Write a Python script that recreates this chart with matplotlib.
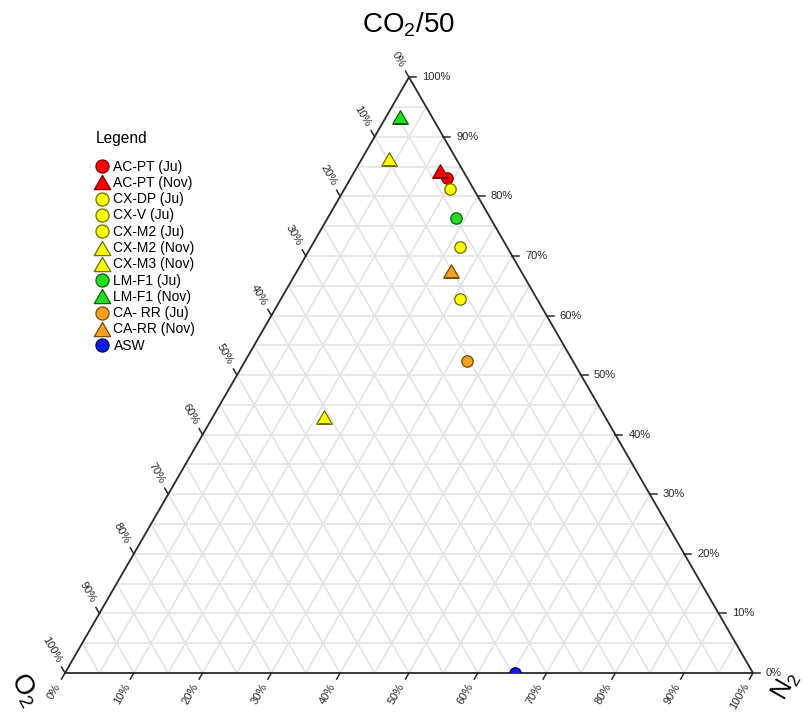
import numpy as np
import matplotlib
matplotlib.use("Agg")
import matplotlib.pyplot as plt
from matplotlib.patches import Polygon
from matplotlib.path import Path

plt.rcParams['font.family'] = ['Liberation Sans', 'DejaVu Sans']
plt.rcParams['mathtext.fontset'] = 'custom'
plt.rcParams['mathtext.rm'] = 'Liberation Sans'

# ---- data (percent) ----
labels = ["AC-PT (Ju)", "AC-PT (Nov)", "CX-DP (Ju)", "CX-V (Ju)", "CX-M2 (Ju)",
          "CX-M2 (Nov)", "CX-M3 (Nov)", "LM-F1 (Ju)", "LM-F1 (Nov)",
          "CA- RR (Ju)", "CA-RR (Nov)", "ASW"]
co2 = [83.1, 84.3, 81.2, 71.5, 62.8, 86.2, 43.0, 76.4, 93.3, 52.3, 67.4, 0.0]
n2 = [14.0, 12.3, 15.4, 21.7, 26.0, 4.0, 16.2, 18.7, 2.0, 32.3, 22.4, 65.4]
o2 = [2.9, 3.4, 3.4, 6.8, 11.2, 9.8, 40.8, 4.9, 4.7, 15.4, 10.2, 34.6]
shapes = ["o", "tri", "o", "o", "o", "tri", "tri", "o", "tri", "o", "tri", "o"]
fills = ["#ff0000", "#ff0000", "#ffff00", "#ffff00", "#ffff00", "#ffff00", "#ffff00",
         "#22dd22", "#22dd22", "#f5a020", "#f5a020", "#0a1ee6"]
edges = ["#7a0000", "#7a0000", "#6e6e00", "#6e6e00", "#6e6e00", "#6e6e00", "#6e6e00",
         "#0b5e0b", "#0b5e0b", "#7a4a00", "#7a4a00", "#00005e"]
tick_vals = list(range(0, 101, 10))

W, H = 807, 714
PX = 688.0  # pixels per data unit
x0, y0 = 65.0, 673.0
S3 = np.sqrt(3) / 2

fig = plt.figure(figsize=(W / 100, H / 100), dpi=100)
ax = fig.add_axes([0, 0, 1, 1])
ax.set_xlim(-x0 / PX, (W - x0) / PX)
ax.set_ylim(-(H - y0) / PX, y0 / PX)
ax.axis('off')


def xy(n, c):
    n = np.asarray(n, float) / 100
    c = np.asarray(c, float) / 100
    return n + c / 2, c * S3


# grid
gc = '#e2e2e2'
for v in range(5, 100, 5):
    a = xy([0, 100 - v], [v, v]); ax.plot(*a, color=gc, lw=1.1, zorder=1)
    a = xy([v, v], [0, 100 - v]); ax.plot(*a, color=gc, lw=1.1, zorder=1)
    a = xy([100 - v, 0], [0, 100 - v]); ax.plot(*a, color=gc, lw=1.1, zorder=1)

tri = Polygon([[0, 0], [1, 0], [0.5, S3]], closed=True, fill=False,
              edgecolor='#2a2a2a', lw=1.3, zorder=2)
ax.add_patch(tri)

tl = 7 / PX
ld = 13 / PX
tfs = 8
tcol = '#262626'
# bottom (N2)
d = np.array([-0.5, -S3])
for v in tick_vals:
    px, py = xy(v, 0)
    ax.plot([px, px + d[0] * tl], [py, py + d[1] * tl], color='#2a2a2a', lw=1.1, clip_on=False)
    ax.text(px + d[0] * ld, py + d[1] * ld, f"{v}%", rotation=60, rotation_mode='anchor',
            ha='right', va='center', fontsize=tfs, color=tcol)
# right (CO2)
for v in tick_vals:
    px, py = xy(100 - v, v)
    ax.plot([px, px + tl], [py, py], color='#2a2a2a', lw=1.1, clip_on=False)
    ax.text(px + ld, py, f"{v}%", ha='left', va='center', fontsize=tfs, color=tcol)
# left (O2)
d = np.array([-0.5, S3])
for v in tick_vals:
    px, py = xy(0, 100 - v)
    ax.plot([px, px + d[0] * tl], [py, py + d[1] * tl], color='#2a2a2a', lw=1.1, clip_on=False)
    ax.text(px + d[0] * ld, py + d[1] * ld, f"{v}%", rotation=-60, rotation_mode='anchor',
            ha='right', va='center', fontsize=tfs, color=tcol)

# triangle marker (bbox-centred, equilateral)
tri_marker = Path([(-1, -0.866), (1, -0.866), (0, 0.866), (-1, -0.866)],
                  [Path.MOVETO, Path.LINETO, Path.LINETO, Path.CLOSEPOLY])

clip_tri = Polygon([[0, 0], [1, 0], [0.5, S3]], closed=True, transform=ax.transData)
for i in range(len(labels)):
    px, py = xy(n2[i], co2[i])
    m = 'o' if shapes[i] == 'o' else tri_marker
    ms = 8.2 if shapes[i] == 'o' else 11.2
    ln, = ax.plot([px], [py], marker=m, ms=ms, mfc=fills[i], mec=edges[i], mew=0.9,
                  ls='none', zorder=5)
    ln.set_clip_path(clip_tri)

# legend (manual)
def fpt(x, y):
    return x / W, 1 - y / H

fig.text(*fpt(96, 139), "Legend", fontsize=11.2, ha='left', va='center')
for i in range(len(labels)):
    yy = 166 + 16.3 * i
    m = 'o' if shapes[i] == 'o' else tri_marker
    ms = 9.4 if shapes[i] == 'o' else 11.8
    ax.plot(*fpt(101.5, yy), marker=m, ms=ms, mfc=fills[i], mec=edges[i], mew=0.9,
            transform=fig.transFigure, clip_on=False, zorder=6)
    fig.text(*fpt(113.5, yy + 0.5), labels[i], fontsize=10, ha='left', va='center')

# axis titles
fig.text(*fpt(409, 25), r"CO$_\mathregular{2}$/50", fontsize=20, ha='center', va='center')
fig.text(*fpt(24, 690), r"O$_\mathregular{2}$", fontsize=20, ha='center', va='center', rotation=-60)
fig.text(*fpt(786, 686), r"N$_\mathregular{2}$", fontsize=18, ha='center', va='center', rotation=60)

fig.savefig("out.png", dpi=100)
